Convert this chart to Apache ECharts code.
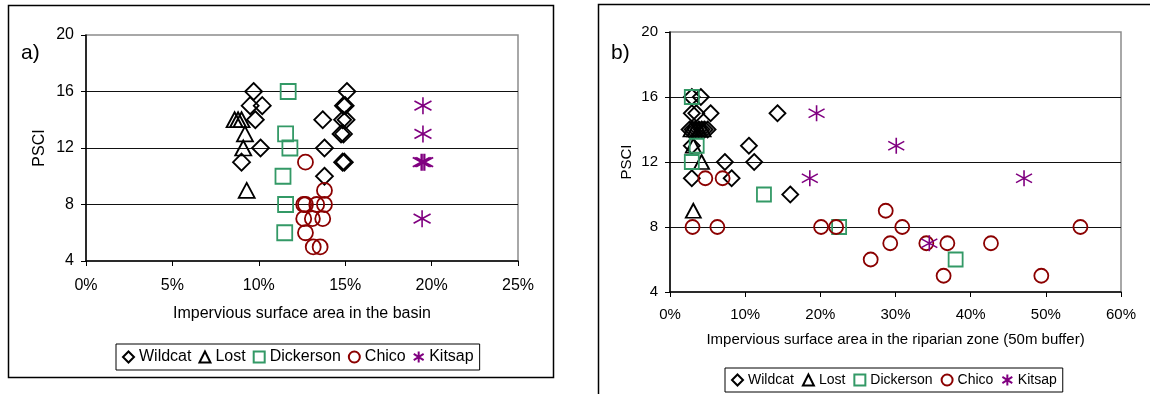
<!DOCTYPE html>
<html><head><meta charset="utf-8">
<script src="https://cdn.jsdelivr.net/npm/echarts@6/dist/echarts.min.js"></script>
<style>html,body{margin:0;padding:0;background:#fff}#c{width:1150px;height:394px}</style>
</head><body><div id="c"></div>
<script>
var seriesNames = ['Wildcat', 'Lost', 'Dickerson', 'Chico', 'Kitsap'];
var yTicks = [4, 8, 12, 16, 20];
var xTicksA = [0, 5, 10, 15, 20, 25];
var xTicksB = [0, 10, 20, 30, 40, 50, 60];
var xTitleA = 'Impervious surface area in the basin';
var xTitleB = 'Impervious surface area in the riparian zone (50m buffer)';
var yTitle = 'PSCI';

// Panel a: [impervious % in basin, PSCI]
var wildcatA = [[9.7,16],[9.5,15],[10.2,15],[9.8,14],[10.1,12],[9.0,11],[15.1,16],[15.0,15],[14.9,15],[13.7,14],[14.85,14],[15.05,14],[14.76,13],[14.9,13],[13.8,12],[14.85,11],[14.95,11],[13.8,10]];
var lostA = [[8.6,14],[8.8,14],[9.0,14],[9.2,13],[9.1,12],[9.3,9]];
var dickersonA = [[11.7,16],[11.55,13],[11.8,12],[11.4,10],[11.55,8],[11.5,6]];
var chicoA = [[12.7,11],[13.8,9],[12.6,8],[12.7,8],[13.35,8],[13.8,8],[12.6,7],[13.1,7],[13.7,7],[12.7,6],[13.15,5],[13.55,5]];
var kitsapA = [[19.5,15],[19.5,13],[19.4,11],[19.5,11],[19.6,11],[19.45,7]];

// Panel b: [impervious % in riparian zone, PSCI]
var wildcatB = [[2.9,16],[4.1,16],[2.9,15],[3.5,15],[5.4,15],[14.3,15],[2.6,14],[3.0,14],[3.4,14],[3.8,14],[4.2,14],[4.6,14],[5.0,14],[10.5,13],[2.9,13],[7.3,12],[11.2,12],[2.9,11],[8.2,11],[16.0,10]];
var lostB = [[2.8,14],[3.3,14],[3.9,14],[4.4,14],[3.1,13],[4.2,12],[3.1,9]];
var dickersonB = [[2.9,16],[3.55,13],[2.9,12],[12.5,10],[22.5,8],[38.0,6]];
var chicoB = [[4.7,11],[7.0,11],[3.0,8],[6.3,8],[20.1,8],[22.1,8],[28.7,9],[30.9,8],[26.7,6],[29.3,7],[34.1,7],[36.9,7],[42.7,7],[36.4,5],[49.4,5],[54.6,8]];
var kitsapB = [[19.5,15],[18.6,11],[30.1,13],[47.1,11],[34.5,7]];

var FONT = '"Liberation Sans", Arial, sans-serif';
var colors = ['#000000', '#000000', '#339966', '#8B0000', '#800080'];
var symbols = ['diamond', 'triangle', 'rect', 'circle', 'path://M10,0 L10,20 M1,4.5 L19,15.5 M1,15.5 L19,4.5'];

function mkSeries(name, idx, data, gi, size) {
  var s = size;
  if (idx === 0) s = size + 2;
  if (idx === 1) s = [size + 1, size];
  if (idx === 4) s = size + 2;
  return {
    type: 'scatter', name: name, xAxisIndex: gi, yAxisIndex: gi, data: data,
    symbol: symbols[idx], symbolSize: s,
    itemStyle: { color: 'rgba(0,0,0,0)', borderColor: colors[idx], borderWidth: idx === 4 ? 1.6 : 1.8, opacity: 1 },
    emphasis: { disabled: true }
  };
}

function xAxis(gi, ticks, title, fs, gap, lblMargin) {
  return {
    type: 'value', gridIndex: gi, min: ticks[0], max: ticks[ticks.length - 1], interval: ticks[1] - ticks[0],
    name: title, nameLocation: 'middle', nameGap: gap,
    nameTextStyle: { fontSize: fs, fontFamily: FONT, color: '#000' },
    axisLine: { show: true, onZero: false, lineStyle: { color: '#000', width: 1.5 } },
    axisTick: { show: true, length: 5, lineStyle: { color: '#000' } },
    axisLabel: { fontSize: fs, fontFamily: FONT, color: '#000', margin: lblMargin, formatter: function (v) { return v + '%'; } },
    splitLine: { show: false }
  };
}
function yAxis(gi, fs, gap) {
  return {
    type: 'value', gridIndex: gi, min: yTicks[0], max: yTicks[yTicks.length - 1], interval: yTicks[1] - yTicks[0],
    name: yTitle, nameLocation: 'middle', nameGap: gap, nameRotate: 90,
    nameTextStyle: { fontSize: fs, fontFamily: FONT, color: '#000' },
    axisLine: { show: true, onZero: false, lineStyle: { color: '#000', width: 1.5 } },
    axisTick: { show: true, length: 5, lineStyle: { color: '#000' } },
    axisLabel: { fontSize: fs, fontFamily: FONT, color: '#000', margin: 12 },
    splitLine: { show: true, showMinLine: false, showMaxLine: false, lineStyle: { color: '#111', width: 1 } }
  };
}
function legend(left, top, fs, gap) {
  return {
    left: left, top: top, orient: 'horizontal', data: seriesNames, selectedMode: false,
    borderColor: '#000', borderWidth: 1, padding: [5, 6], itemGap: gap, itemWidth: 11, itemHeight: 11,
    textStyle: { fontSize: fs, fontFamily: FONT, color: '#000' },
    itemStyle: { borderWidth: 2 }
  };
}

var dataA = [wildcatA, lostA, dickersonA, chicoA, kitsapA];
var dataB = [wildcatB, lostB, dickersonB, chicoB, kitsapB];
var series = [];
seriesNames.forEach(function (n, i) { series.push(mkSeries(n, i, dataA[i], 0, 15)); });
seriesNames.forEach(function (n, i) { series.push(mkSeries(n, i, dataB[i], 1, 14)); });

var chart = echarts.init(document.getElementById('c'), null, { renderer: 'canvas' });
chart.setOption({
  animation: false,
  backgroundColor: '#fff',
  grid: [
    { left: 86, top: 35, width: 432, height: 226, show: true, borderColor: '#8c8c8c', borderWidth: 1.5, containLabel: false },
    { left: 670, top: 32, width: 451, height: 260, show: true, borderColor: '#8c8c8c', borderWidth: 1.5, containLabel: false }
  ],
  xAxis: [xAxis(0, xTicksA, xTitleA, 16, 45, 17), xAxis(1, xTicksB, xTitleB, 15, 40, 15)],
  yAxis: [yAxis(0, 16, 38), yAxis(1, 15, 36)],
  legend: [legend(116, 344, 16, 7), legend(725, 368, 14, 8)],
  series: series,
  graphic: [
    { type: 'rect', shape: { x: 8.5, y: 5.5, width: 545, height: 372 }, style: { fill: 'none', stroke: '#000', lineWidth: 1.5 }, silent: true, z: -10 },
    { type: 'rect', shape: { x: 598.5, y: 4.5, width: 620, height: 420 }, style: { fill: 'none', stroke: '#000', lineWidth: 1.5 }, silent: true, z: -10 },
    { type: 'text', left: 21, top: 43, style: { text: 'a)', fontSize: 21, fontFamily: FONT, fill: '#000' } },
    { type: 'text', left: 611, top: 43, style: { text: 'b)', fontSize: 21, fontFamily: FONT, fill: '#000' } }
  ]
});
</script></body></html>
